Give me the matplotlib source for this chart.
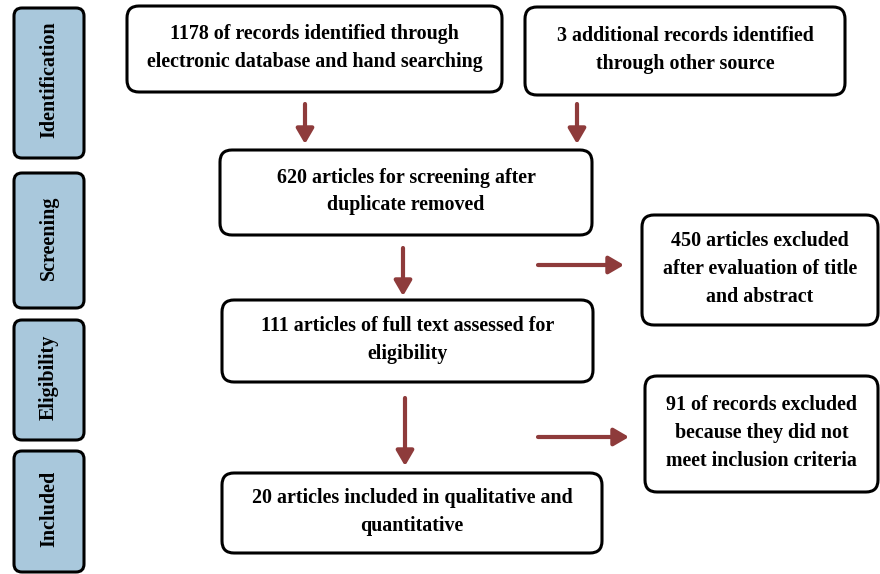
import matplotlib.pyplot as plt
from matplotlib.patches import FancyBboxPatch, FancyArrowPatch

# chart content
stages = ['Identification', 'Screening', 'Eligibility', 'Included']
box_texts = [
    '1178 of records identified through\nelectronic database and hand searching',
    '3 additional records identified\nthrough other source',
    '620 articles for screening after\nduplicate removed',
    '450 articles excluded\nafter evaluation of title\nand abstract',
    '111 articles of full text assessed for\neligibility',
    '91 of records excluded\nbecause they did not\nmeet inclusion criteria',
    '20 articles included in qualitative and\nquantitative',
]

# layout (pixel coords, y down)
stage_boxes = [(14, 8, 70, 150), (14, 173, 70, 135), (14, 320, 70, 120), (14, 451, 70, 121)]
main_boxes = [(127, 6, 375, 86), (525, 7, 320, 88), (220, 150, 372, 85), (642, 215, 236, 110),
              (222, 300, 371, 82), (645, 376, 233, 116), (222, 473, 380, 80)]
arrows = [((305, 104), (305, 144)), ((577, 104), (577, 144)), ((403, 248), (403, 296)),
          ((538, 265), (624, 265)), ((405, 398), (405, 466)), ((538, 437), (629, 437))]

plt.rcParams['font.family'] = ['Liberation Serif', 'DejaVu Serif']

fig = plt.figure(figsize=(8.8, 5.74), dpi=100)
ax = fig.add_axes([0, 0, 1, 1])
ax.set_xlim(0, 880)
ax.set_ylim(574, 0)
ax.axis('off')

for name, (x, y, w, h) in zip(stages, stage_boxes):
    ax.add_patch(FancyBboxPatch((x + 8, y + 8), w - 16, h - 16, boxstyle='round,pad=8',
                                fc='#a9c8dc', ec='black', lw=2.2))
    ax.text(x + w / 2, y + h / 2 - 3, name, rotation=90, ha='center', va='center',
            fontsize=14.5, fontweight='bold')

for txt, (x, y, w, h) in zip(box_texts, main_boxes):
    ax.add_patch(FancyBboxPatch((x + 12, y + 12), w - 24, h - 24, boxstyle='round,pad=12',
                                fc='white', ec='black', lw=2.2))
    ax.text(x + w / 2, y + h / 2 - 1, txt, ha='center', va='center', fontsize=14.4,
            fontweight='bold', linespacing=1.5)

for a, b in arrows:
    ax.add_patch(FancyArrowPatch(a, b, arrowstyle='-|>,head_length=6,head_width=3.5',
                                 color='#8e3b3b', lw=3, mutation_scale=1.5,
                                 shrinkA=0, shrinkB=0))

fig.savefig('out.png', dpi=100)
